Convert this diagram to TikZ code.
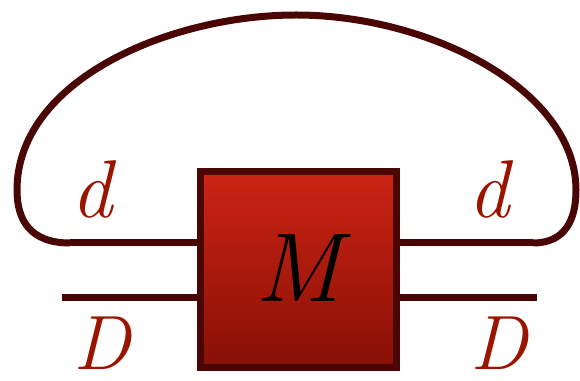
\documentclass[tikz,border=0pt]{standalone}
\usepackage{fontspec}
\definecolor{wire}{HTML}{4A0505}
\definecolor{boxtop}{HTML}{CC2414}
\definecolor{boxbot}{HTML}{881005}
\definecolor{labred}{HTML}{9A1500}
\tikzset{
  wireline/.style={draw=wire, line width=7pt},
  tensorbox/.style={draw=wire, line width=7pt, minimum size=196pt, inner sep=0pt,
    top color=boxtop, bottom color=boxbot, shading angle=0},
  lab/.style={text=labred, anchor=base, inner sep=0pt},
}
\begin{document}
\begin{tikzpicture}[x=1pt,y=1pt]
\useasboundingbox (0,0) rectangle (580,380);
\coordinate (ul) at (70,137);
\coordinate (ll) at (62,83);
\coordinate (ur) at (533,137);
\coordinate (lr) at (537,83);
\draw[wireline] (ul) .. controls (30,137) and (17,160) .. (17,190)
  .. controls (17,300) and (170,365) .. (296,365)
  .. controls (430,365) and (576,290) .. (576,190)
  .. controls (576,160) and (565,137) .. (ur);
\node[tensorbox] (M) at (298.5,110.5) {};
\draw[wireline] (ul) -- (ul -| M.west);
\draw[wireline] (ll) -- (ll -| M.west);
\draw[wireline] (ur) -- (ur -| M.east);
\draw[wireline] (lr) -- (lr -| M.east);
\node[anchor=base, inner sep=0pt] (Mlab) at (298,78) {\fontsize{98}{102}\selectfont\itshape M};
\node[lab] (dl) at (92,162) {\fontsize{82}{90}\selectfont\itshape d};
\node[lab] (dr) at (489,162) {\fontsize{82}{90}\selectfont\itshape d};
\node[lab] (Dl) at (102,11) {\fontsize{77}{84}\selectfont\itshape D};
\node[lab] (Dr) at (499,11) {\fontsize{77}{84}\selectfont\itshape D};
\end{tikzpicture}
\end{document}
